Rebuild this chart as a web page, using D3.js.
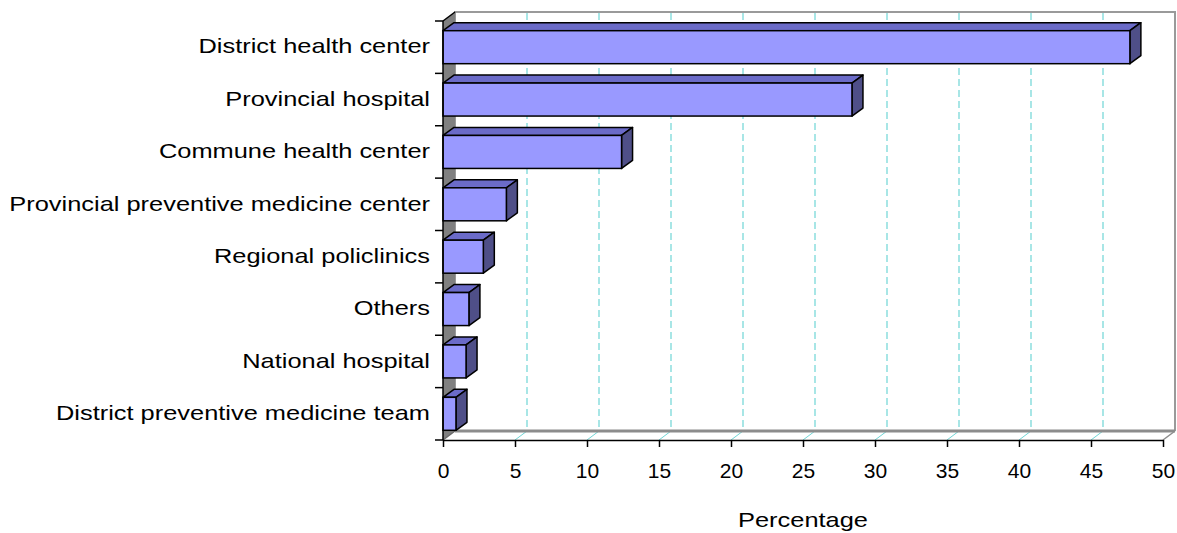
<!DOCTYPE html>
<html>
<head>
<meta charset="utf-8">
<script src="https://cdn.jsdelivr.net/npm/d3@7/dist/d3.min.js"></script>
<style>
  html, body { margin: 0; padding: 0; background: #fff; }
  svg { display: block; font-family: "Liberation Sans", Arial, sans-serif; }
</style>
</head>
<body>
<svg id="chart" width="1177" height="533"></svg>
<script>
// Facilities, top to bottom
const categories = [
  "District health center",
  "Provincial hospital",
  "Commune health center",
  "Provincial preventive medicine center",
  "Regional policlinics",
  "Others",
  "National hospital",
  "District preventive medicine team"
];
// Share of responses (%)
const values = [47.7, 28.4, 12.4, 4.4, 2.8, 1.8, 1.6, 0.9];
const xTicks = [0, 5, 10, 15, 20, 25, 30, 35, 40, 45, 50];
const xTitle = "Percentage";

const svg = d3.select("#chart");

// Wide sans text: regular glyphs stretched horizontally
const fontSize = 21, stretch = 1.21;

// Front plane of the 3-D plot box
const plotLeft = 443, plotRight = 1163, plotTop = 21, plotBottom = 440;
// Depth offset of the walls and of the bars
const wallDx = 12, wallDy = -9;
const barDx = 11, barDy = -8;

const x = d3.scaleLinear().domain([0, 50]).range([plotLeft, plotRight]);
const y = d3.scaleBand().domain(categories).range([plotTop, plotBottom]).paddingInner(0).paddingOuter(0);
const barH = y.bandwidth() * 0.63;

const pts = p => p.map(d => d.join(",")).join(" ");

// Back wall outline (white, gray edges)
svg.append("polyline")
  .attr("points", pts([[plotLeft + wallDx, plotBottom + wallDy], [plotLeft + wallDx, plotTop + wallDy], [plotRight + wallDx, plotTop + wallDy], [plotRight + wallDx, plotBottom + wallDy]]))
  .attr("fill", "#fff").attr("stroke", "#9a9a9a").attr("stroke-width", 2);

// Gridlines on the back wall and across the floor
const grid = svg.append("g");
xTicks.filter(t => t > 0 && t < 50).forEach(t => {
  grid.append("line")
    .attr("x1", x(t) + wallDx).attr("x2", x(t) + wallDx)
    .attr("y1", plotTop + wallDy + 1).attr("y2", plotBottom + wallDy)
    .attr("stroke", "#6fd6d6").attr("stroke-width", 1.2)
    .attr("stroke-dasharray", "7,4");
  grid.append("line")
    .attr("x1", x(t)).attr("y1", plotBottom)
    .attr("x2", x(t) + wallDx).attr("y2", plotBottom + wallDy)
    .attr("stroke", "#6fd6d6").attr("stroke-width", 1);
});

// Floor back edge
svg.append("line")
  .attr("x1", plotLeft + wallDx).attr("x2", plotRight + wallDx)
  .attr("y1", plotBottom + wallDy).attr("y2", plotBottom + wallDy)
  .attr("stroke", "#8c8c8c").attr("stroke-width", 3);
// Floor right edge
svg.append("line")
  .attr("x1", plotRight).attr("y1", plotBottom)
  .attr("x2", plotRight + wallDx).attr("y2", plotBottom + wallDy)
  .attr("stroke", "#8c8c8c").attr("stroke-width", 1.5);

// Left (side) wall
svg.append("polygon")
  .attr("points", pts([[plotLeft, plotTop], [plotLeft + wallDx, plotTop + wallDy], [plotLeft + wallDx, plotBottom + wallDy], [plotLeft, plotBottom]]))
  .attr("fill", "#808080").attr("stroke", "none");
svg.append("line")
  .attr("x1", plotLeft).attr("y1", plotTop)
  .attr("x2", plotLeft + wallDx).attr("y2", plotTop + wallDy)
  .attr("stroke", "#000").attr("stroke-width", 1.5);
svg.append("line")
  .attr("x1", plotLeft).attr("y1", plotBottom)
  .attr("x2", plotLeft + wallDx).attr("y2", plotBottom + wallDy)
  .attr("stroke", "#6a6a6a").attr("stroke-width", 1.5);

// 3-D bars: front face, top face, right side face
const bars = svg.append("g")
  .selectAll("g")
  .data(categories.map((c, i) => ({ c, v: values[i] })))
  .join("g");

bars.each(function (d) {
  const g = d3.select(this);
  const y0 = y(d.c) + (y.bandwidth() - barH) / 2;
  const y1 = y0 + barH;
  const x0 = x(0), x1 = x(d.v);
  g.append("polygon")
    .attr("points", pts([[x0, y0], [x0 + barDx, y0 + barDy], [x1 + barDx, y0 + barDy], [x1, y0]]))
    .attr("fill", "#6b6bc8").attr("stroke", "#000").attr("stroke-width", 1.5).attr("stroke-linejoin", "round");
  g.append("polygon")
    .attr("points", pts([[x1, y0], [x1 + barDx, y0 + barDy], [x1 + barDx, y1 + barDy], [x1, y1]]))
    .attr("fill", "#4f4f88").attr("stroke", "#000").attr("stroke-width", 1.5).attr("stroke-linejoin", "round");
  g.append("rect")
    .attr("x", x0).attr("y", y0).attr("width", x1 - x0).attr("height", barH)
    .attr("fill", "#9999ff").attr("stroke", "#000").attr("stroke-width", 1.5);
});

// Y axis: line, ticks at category boundaries, labels
svg.append("line")
  .attr("x1", plotLeft).attr("x2", plotLeft).attr("y1", plotTop).attr("y2", plotBottom)
  .attr("stroke", "#000").attr("stroke-width", 1.5);
const bounds = categories.map(c => y(c)).concat([plotBottom]);
svg.append("g").selectAll("line").data(bounds).join("line")
  .attr("x1", plotLeft - 8).attr("x2", plotLeft)
  .attr("y1", d => d).attr("y2", d => d)
  .attr("stroke", "#000").attr("stroke-width", 1.5);
svg.append("g").selectAll("text").data(categories).join("text")
  .attr("transform", d => `translate(${plotLeft - 13},${y(d) + y.bandwidth() / 2 - 1}) scale(${stretch},1)`)
  .attr("text-anchor", "end")
  .attr("dominant-baseline", "central")
  .attr("font-size", fontSize)
  .attr("fill", "#000")
  .text(d => d);

// X axis
const xAxis = svg.append("g")
  .attr("transform", `translate(0,${plotBottom})`)
  .call(d3.axisBottom(x).tickValues(xTicks).tickSize(7).tickSizeOuter(0).tickPadding(16));
xAxis.select(".domain").attr("stroke", "#000").attr("stroke-width", 1.5);
xAxis.selectAll(".tick line").attr("stroke", "#000").attr("stroke-width", 1.5);
xAxis.selectAll(".tick text")
  .attr("font-size", fontSize)
  .attr("font-family", "'Liberation Sans', Arial, sans-serif")
  .attr("fill", "#000");

// Axis title
svg.append("text")
  .attr("transform", `translate(803,527) scale(${stretch},1)`)
  .attr("text-anchor", "middle")
  .attr("font-size", fontSize)
  .attr("fill", "#000")
  .text(xTitle);
</script>
</body>
</html>
